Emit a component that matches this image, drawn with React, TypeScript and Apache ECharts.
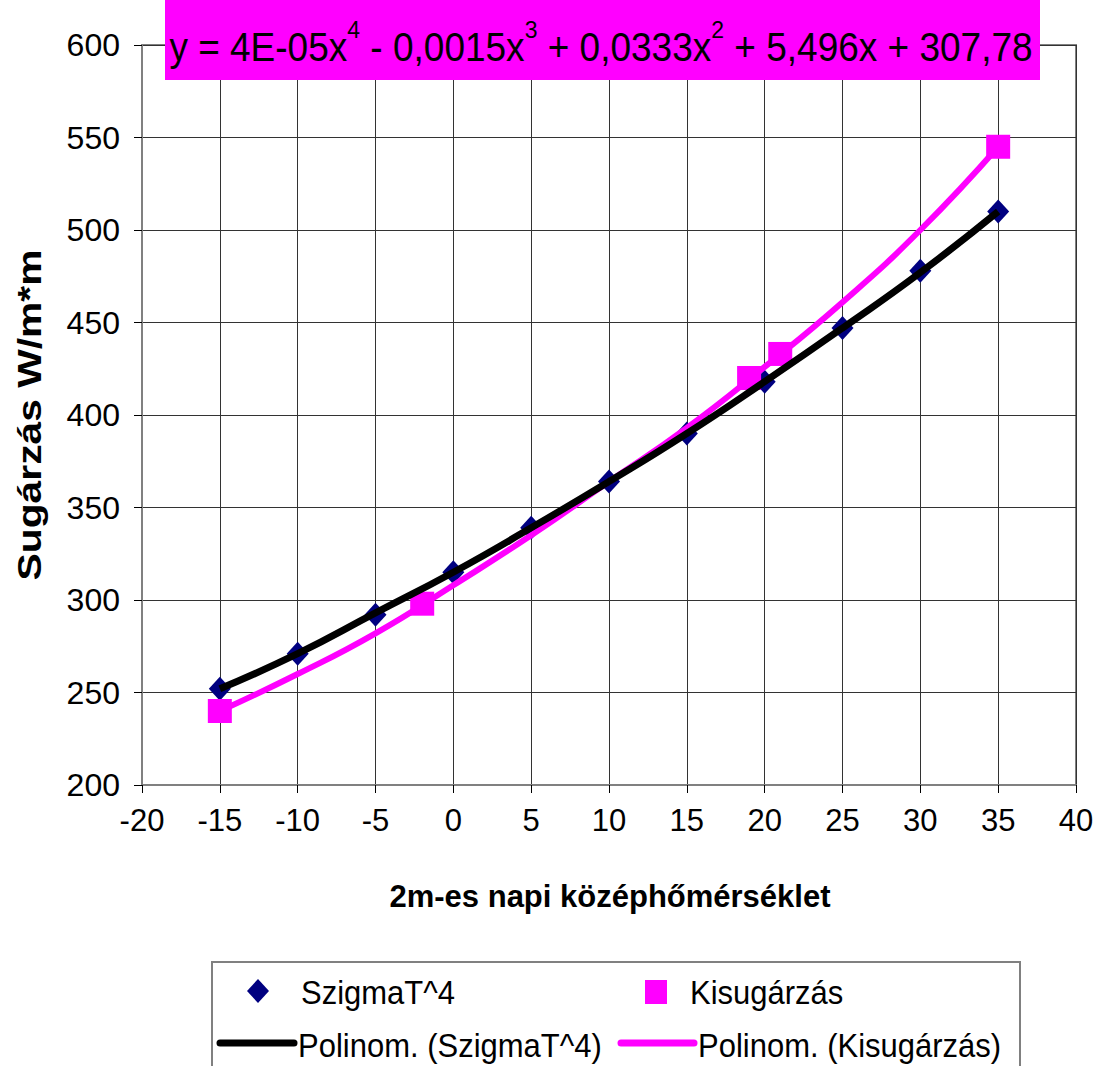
import React, { useEffect, useRef } from "react";
import * as echarts from "echarts";

const xTicks = [-20, -15, -10, -5, 0, 5, 10, 15, 20, 25, 30, 35, 40];
const szigmaX = [-15, -10, -5, 0, 5, 10, 15, 20, 25, 30, 35];
const szigmaY = [252, 271, 292, 315, 339, 364, 390, 418, 447, 478, 510];
const kisX = [-15, -2, 19, 21, 35];
const kisY = [240, 298, 420, 433, 545];
// trendline curves
const trendX = [-15, -10, -5, 0, 5, 10, 15, 20, 25, 30, 35];
const trendSzigma = [252, 271, 293, 315, 339, 364, 390, 418, 447, 477, 510];
const trendKis = [240, 260, 282, 308, 335, 364, 393, 426, 461, 500, 545];

const SANS = "'Liberation Sans', Arial, sans-serif";
const DIAMOND = "path://M10,0L20,11L10,22L0,11Z";

export default function App() {
  const ref = useRef<HTMLDivElement>(null);
  useEffect(() => {
    if (!ref.current) return;
    const chart = echarts.init(ref.current, undefined, { renderer: "svg" });
    const pair = (xs: number[], ys: number[]) => xs.map((x, i) => [x, ys[i]]);
    const eqStyle = { fontFamily: SANS, fontSize: 37, color: "#000", lineHeight: 46, verticalAlign: "bottom" };
    const supStyle = { fontFamily: SANS, fontSize: 23, color: "#000", lineHeight: 46, verticalAlign: "top" };
    const legText = (text: string, x: number, y: number) => ({
      type: "text",
      x,
      y,
      z: 11,
      scaleY: 1.1,
      style: { text, fontFamily: SANS, fontSize: 31, fill: "#000", verticalAlign: "middle" },
    });
    chart.setOption({
      animation: false,
      backgroundColor: "#fff",
      grid: { left: 142, right: 28, top: 45, bottom: 281, show: true, borderColor: "#808080", borderWidth: 2, backgroundColor: "#fff" },
      xAxis: {
        type: "value",
        min: xTicks[0],
        max: xTicks[xTicks.length - 1],
        interval: 5,
        axisLine: { show: true, onZero: false, lineStyle: { color: "#808080", width: 2 } },
        axisTick: { show: true, length: 8, lineStyle: { color: "#000" } },
        axisLabel: { fontFamily: SANS, fontSize: 31, color: "#000", margin: 20 },
        splitLine: { show: true, lineStyle: { color: "#333", width: 1 } },
      },
      yAxis: {
        type: "value",
        min: 200,
        max: 600,
        interval: 50,
        axisLine: { show: true, onZero: false, lineStyle: { color: "#808080", width: 2 } },
        axisTick: { show: true, length: 8, lineStyle: { color: "#000" } },
        axisLabel: { fontFamily: SANS, fontSize: 32, color: "#000", margin: 22 },
        splitLine: { show: true, lineStyle: { color: "#333", width: 1 } },
      },
      series: [
        {
          name: "SzigmaT^4",
          type: "scatter",
          symbol: DIAMOND,
          symbolSize: [22, 24],
          itemStyle: { color: "#000080", opacity: 1 },
          data: pair(szigmaX, szigmaY),
          z: 2,
        },
        {
          name: "Kisugárzás",
          type: "scatter",
          symbol: "rect",
          symbolSize: 24,
          itemStyle: { color: "#FF00FF", opacity: 1 },
          data: pair(kisX, kisY),
          z: 2,
        },
        {
          name: "Polinom. (Kisugárzás)",
          type: "line",
          smooth: true,
          showSymbol: false,
          lineStyle: { color: "#FF00FF", width: 6 },
          data: pair(trendX, trendKis),
          z: 3,
        },
        {
          name: "Polinom. (SzigmaT^4)",
          type: "line",
          smooth: true,
          showSymbol: false,
          lineStyle: { color: "#000", width: 7 },
          data: pair(trendX, trendSzigma),
          z: 4,
        },
      ],
      graphic: [
        { type: "rect", shape: { x: 165, y: 0, width: 875, height: 80 }, style: { fill: "#FF00FF" }, z: 10 },
        {
          type: "text",
          x: 601,
          y: 42,
          z: 11,
          scaleY: 1.08,
          style: {
            text: "{a|y = 4E-05x}{s|4}{a| - 0,0015x}{s|3}{a| + 0,0333x}{s|2}{a| + 5,496x + 307,78}",
            align: "center",
            verticalAlign: "middle",
            rich: { a: eqStyle, s: supStyle },
          },
        },
        {
          type: "text",
          x: 29,
          y: 415,
          rotation: Math.PI / 2,
          scaleX: 1.2,
          z: 11,
          style: { text: "Sugárzás W/m*m", fontFamily: SANS, fontWeight: "bold", fontSize: 34, fill: "#000", align: "center", verticalAlign: "middle" },
        },
        {
          type: "text",
          x: 610,
          y: 896,
          z: 11,
          style: { text: "2m-es napi középhőmérséklet", fontFamily: SANS, fontWeight: "bold", fontSize: 31, fill: "#000", align: "center", verticalAlign: "middle" },
        },
        { type: "rect", shape: { x: 212, y: 962, width: 808, height: 120 }, style: { fill: "#fff", stroke: "#808080", lineWidth: 2 }, z: 10 },
        { type: "polygon", shape: { points: [[258, 979], [269, 991], [258, 1003], [247, 991]] }, style: { fill: "#000080" }, z: 11 },
        legText("SzigmaT^4", 301, 992),
        { type: "rect", shape: { x: 645, y: 980, width: 22, height: 24 }, style: { fill: "#FF00FF" }, z: 11 },
        legText("Kisugárzás", 690, 992),
        { type: "line", shape: { x1: 220, y1: 1043, x2: 294, y2: 1043 }, style: { stroke: "#000", lineWidth: 7, lineCap: "round" }, z: 11 },
        legText("Polinom. (SzigmaT^4)", 298, 1045),
        { type: "line", shape: { x1: 621, y1: 1043, x2: 694, y2: 1043 }, style: { stroke: "#FF00FF", lineWidth: 7, lineCap: "round" }, z: 11 },
        legText("Polinom. (Kisugárzás)", 698, 1045),
      ],
    });
    return () => chart.dispose();
  }, []);
  return <div ref={ref} style={{ position: "absolute", left: 0, top: 0, width: 1104, height: 1066 }} />;
}
